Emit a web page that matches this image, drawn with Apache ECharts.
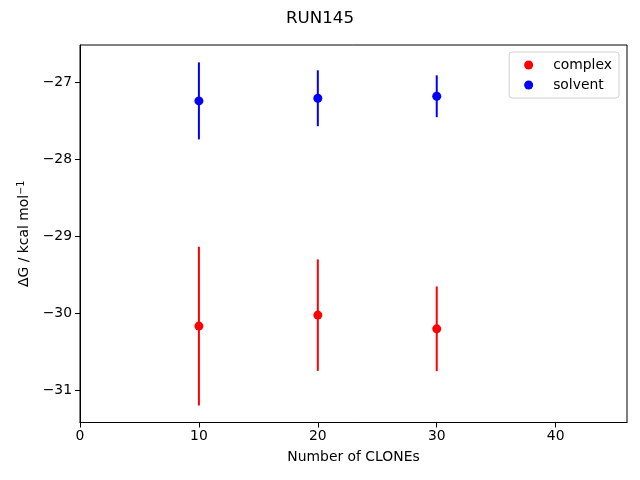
<!DOCTYPE html>
<html>
<head>
<meta charset="utf-8">
<script src="https://cdn.jsdelivr.net/npm/echarts@6/dist/echarts.min.js"></script>
<style>html,body{margin:0;padding:0;background:#fff}#c{width:640px;height:480px}</style>
</head>
<body>
<div id="c"></div>
<script>
const clones = [10, 20, 30];
const complexMean = [-30.164, -30.021, -30.199];
const complexErr = [1.031, 0.724, 0.550];
const solventMean = [-27.238, -27.204, -27.178];
const solventErr = [0.500, 0.363, 0.272];
const xTicks = [0, 10, 20, 30, 40];
const yTicks = [-31, -30, -29, -28, -27];

const FONT = 'DejaVu Sans';
const fmt = v => (v < 0 ? '\u2212' + Math.abs(v) : String(v));

function pts(means) { return clones.map((x, i) => [x, means[i]]); }
function bars(means, errs) { return clones.map((x, i) => [x, means[i] - errs[i], means[i] + errs[i]]); }
function errSeries(name, color, means, errs) {
  return {
    type: 'custom', name: name + '_err', z: 2,
    data: bars(means, errs),
    encode: { x: 0, y: [1, 2] },
    renderItem: function (params, api) {
      const a = api.coord([api.value(0), api.value(1)]);
      const b = api.coord([api.value(0), api.value(2)]);
      return { type: 'line', shape: { x1: a[0], y1: a[1], x2: b[0], y2: b[1] },
               style: { stroke: color, lineWidth: 2 } };
    },
    silent: true
  };
}

const chart = echarts.init(document.getElementById('c'), null, { renderer: 'canvas' });
chart.setOption({
  animation: false,
  backgroundColor: '#fff',
  title: { text: 'RUN145', left: 'center', top: 5,
           textStyle: { fontFamily: FONT, fontSize: 16.7, fontWeight: 'normal', color: '#000' } },
  grid: { left: 80, right: 13, top: 45, bottom: 57.5, show: true, borderColor: '#000', borderWidth: 1 },
  legend: {
    orient: 'vertical', right: 21, top: 52, data: ['complex', 'solvent'],
    backgroundColor: 'rgba(255,255,255,0.8)', borderColor: '#d0d0d0', borderWidth: 1, borderRadius: 3,
    padding: [6, 7, 6, 15], itemGap: 6, itemWidth: 9, itemHeight: 9,
    textStyle: { fontFamily: FONT, fontSize: 13.9, color: '#000', padding: [0, 0, 0, 15] }
  },
  xAxis: {
    type: 'value', min: 0, max: 46,
    name: 'Number of CLONEs', nameLocation: 'middle', nameGap: 28,
    nameTextStyle: { fontFamily: FONT, fontSize: 13.9, color: '#000' },
    axisLine: { show: true, lineStyle: { color: '#000', width: 1 } },
    axisTick: { show: true, length: 5, lineStyle: { color: '#000' }, customValues: xTicks },
    axisLabel: { fontFamily: FONT, fontSize: 13.9, color: '#000', margin: 7, formatter: fmt, customValues: xTicks },
    splitLine: { show: false }
  },
  yAxis: {
    type: 'value', min: -31.416, max: -26.512,
    name: 'ΔG / kcal mol{sup|\u22121}', nameLocation: 'middle', nameGap: 46,
    nameTextStyle: { fontFamily: FONT, fontSize: 13.9, color: '#000',
      rich: { sup: { fontFamily: FONT, fontSize: 9.7, color: '#000', verticalAlign: 'top', padding: [0, 0, 6, 0] } } },
    axisLine: { show: true, lineStyle: { color: '#000', width: 1 } },
    axisTick: { show: true, length: 5, lineStyle: { color: '#000' }, customValues: yTicks },
    axisLabel: { fontFamily: FONT, fontSize: 13.9, color: '#000', margin: 8, formatter: fmt, customValues: yTicks },
    splitLine: { show: false }
  },
  series: [
    errSeries('complex', '#ff0000', complexMean, complexErr),
    errSeries('solvent', '#0000ff', solventMean, solventErr),
    { type: 'scatter', name: 'complex', data: pts(complexMean), symbol: 'circle', symbolSize: 9, z: 3,
      itemStyle: { color: '#ff0000', opacity: 1 } },
    { type: 'scatter', name: 'solvent', data: pts(solventMean), symbol: 'circle', symbolSize: 9, z: 3,
      itemStyle: { color: '#0000ff', opacity: 1 } }
  ]
});
</script>
</body>
</html>
